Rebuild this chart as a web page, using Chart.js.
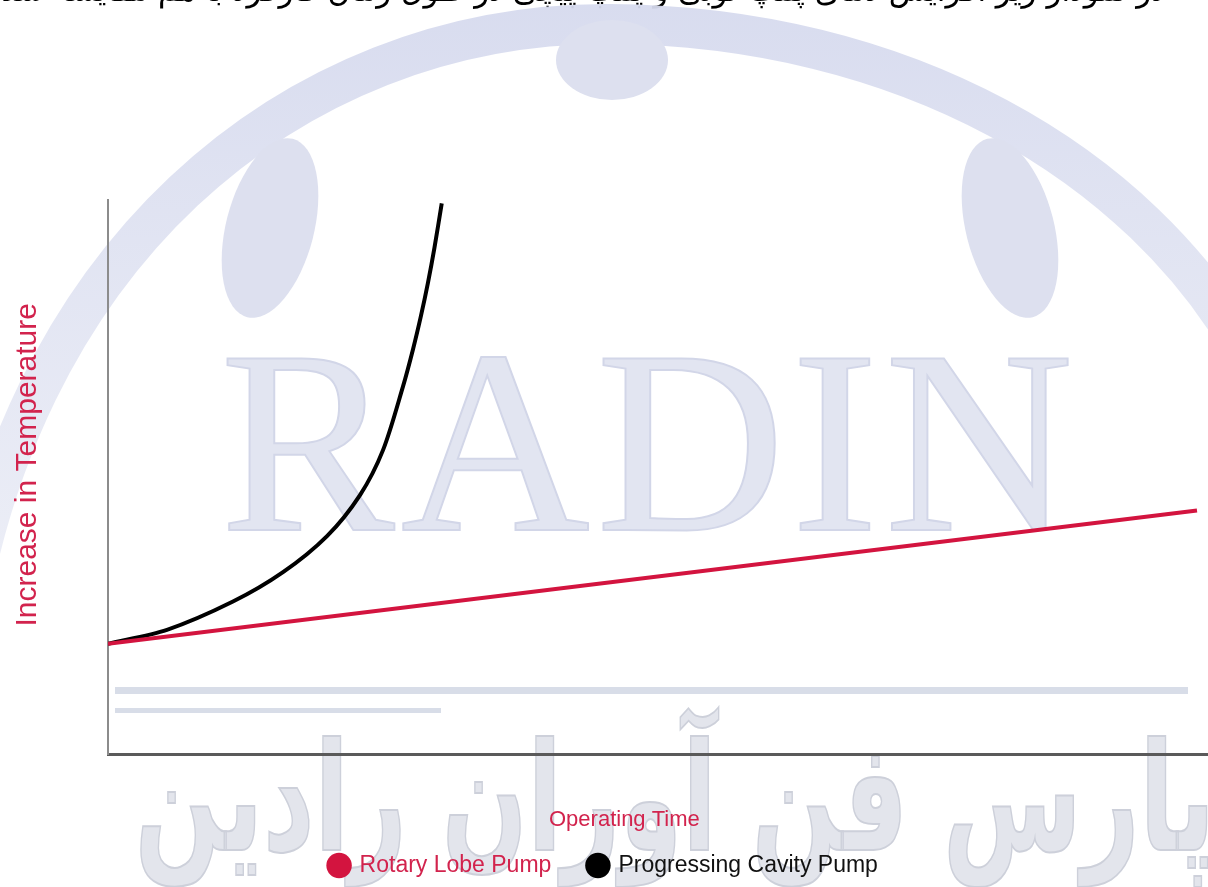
<!DOCTYPE html>
<html>
<head>
<meta charset="utf-8">
<title>Increase in Temperature vs Operating Time</title>
<script src="https://cdn.jsdelivr.net/npm/chart.js@4/dist/chart.umd.min.js"></script>
<style>
    html, body { margin: 0; padding: 0; background: #fff; }
    #wrap { width: 1208px; height: 887px; }
</style>
</head>
<body>
<div id="wrap"><canvas id="chart" width="1208" height="887"></canvas></div>
<script>
// operating time (x) / temperature rise (y)
const timeRotary = [0, 99];
const tempRotary = [20, 44];

const timeCavity = [0, 5.36, 11.36, 15.91, 19.91, 22.91, 25.0, 26.82, 27.73, 28.45, 29.09, 29.68, 30.34];
const tempCavity = [20, 22.5, 27.6, 32.9, 39.4, 46.8, 54.9, 66.4, 73.1, 79.1, 85.1, 91.4, 99.4];

const seriesLabels = ['Rotary Lobe Pump', 'Progressing Cavity Pump'];
const seriesColors = ['#d3143f', '#000000'];

const titleRed = '#d2234d';
const sans = "'Liberation Sans', Arial, sans-serif";

let toPoints = (xs, ys) => xs.map((x, i) => ({x: x, y: ys[i]}));

// logo watermark behind the plot (arc, lobes, RADIN, persian name)
let watermark = {
    id: 'watermark',
    beforeDraw: chart => {
        let ctx = chart.ctx;
        ctx.save();
        ctx.fillStyle = '#fff';
        ctx.fillRect(0, 0, chart.width, chart.height);

        // clipped caption line at the very top
        ctx.fillStyle = '#000';
        ctx.font = "31px 'DejaVu Sans'";
        ctx.direction = 'rtl';
        ctx.textAlign = 'right';
        ctx.textBaseline = 'alphabetic';
        ctx.fillText('در نمودار زیر افزایش دمای پمپ لوبی و پمپ پیچی در طول زمان کارکرد با هم مقایسه شده است.', 1165, 1);
        ctx.direction = 'ltr';

        // big arc
        let grad = ctx.createLinearGradient(0, 0, 0, 650);
        grad.addColorStop(0, 'rgba(214, 218, 238, 0.95)');
        grad.addColorStop(1, 'rgba(226, 229, 242, 0.6)');
        ctx.strokeStyle = grad;
        ctx.lineWidth = 40;
        ctx.lineCap = 'round';
        ctx.beginPath();
        ctx.moveTo(-40, 660);
        ctx.bezierCurveTo(10, 260, 290, 22, 610, 24);
        ctx.bezierCurveTo(900, 26, 1140, 160, 1250, 360);
        ctx.stroke();

        // lobes
        ctx.fillStyle = '#dde0ef';
        ctx.beginPath();
        ctx.ellipse(270, 228, 44, 92, 0.25, 0, Math.PI * 2);
        ctx.fill();
        ctx.beginPath();
        ctx.ellipse(1010, 228, 44, 92, -0.25, 0, Math.PI * 2);
        ctx.fill();
        ctx.beginPath();
        ctx.ellipse(612, 60, 56, 40, 0, 0, Math.PI * 2);
        ctx.fill();

        // RADIN
        ctx.font = "262px 'Liberation Serif', 'DejaVu Serif', serif";
        ctx.letterSpacing = '6px';
        ctx.textAlign = 'left';
        ctx.fillStyle = '#e2e5f1';
        ctx.strokeStyle = '#d2d6e8';
        ctx.lineWidth = 2;
        ctx.fillText('RADIN', 220, 530);
        ctx.strokeText('RADIN', 220, 530);
        ctx.letterSpacing = '0px';

        // pale bars under the curves
        ctx.fillStyle = '#d8dde8';
        ctx.fillRect(115, 687, 1073, 7);
        ctx.fillRect(115, 708, 326, 5);

        // persian company name
        ctx.translate(1215, 850);
        ctx.scale(0.67, 1);
        ctx.font = "bold 150px 'DejaVu Sans'";
        ctx.direction = 'rtl';
        ctx.textAlign = 'right';
        ctx.fillStyle = '#e3e5ec';
        ctx.strokeStyle = '#cdd0da';
        ctx.lineWidth = 2;
        ctx.fillText('پارس فن آوران رادین', 0, 0);
        ctx.strokeText('پارس فن آوران رادین', 0, 0);
        ctx.restore();
    }
};

new Chart(document.getElementById('chart'), {
    type: 'scatter',
    data: {
        datasets: [
            {
                label: seriesLabels[0],
                data: toPoints(timeRotary, tempRotary),
                showLine: true,
                borderColor: seriesColors[0],
                backgroundColor: seriesColors[0],
                borderWidth: 4,
                pointRadius: 0
            },
            {
                label: seriesLabels[1],
                data: toPoints(timeCavity, tempCavity),
                showLine: true,
                tension: 0.3,
                borderColor: seriesColors[1],
                backgroundColor: seriesColors[1],
                borderWidth: 4,
                pointRadius: 0
            }
        ]
    },
    options: {
        responsive: false,
        animation: false,
        layout: {padding: {top: 200, left: 0, right: 0, bottom: 0}},
        plugins: {
            tooltip: {enabled: false},
            legend: {
                position: 'bottom',
                labels: {
                    usePointStyle: true,
                    pointStyle: 'circle',
                    boxWidth: 18,
                    boxHeight: 18,
                    padding: 12,
                    font: {family: sans, size: 23},
                    generateLabels: chart => chart.data.datasets.map((ds, i) => ({
                        // extra spaces widen the gap between the two entries
                        text: i === 0 ? ds.label + '    ' : ds.label,
                        fillStyle: ds.borderColor,
                        strokeStyle: ds.borderColor,
                        lineWidth: 0,
                        pointStyle: 'circle',
                        fontColor: i === 0 ? titleRed : '#111',
                        datasetIndex: i
                    }))
                }
            }
        },
        scales: {
            x: {
                type: 'linear',
                min: 0,
                max: 100,
                grid: {display: false},
                ticks: {display: false},
                border: {color: '#5a5a5a', width: 3},
                title: {
                    display: true,
                    // trailing spaces nudge the label left of the plot centre
                    text: 'Operating Time           ',
                    color: titleRed,
                    font: {family: sans, size: 22},
                    padding: {top: 44, bottom: 9}
                }
            },
            y: {
                min: 0,
                max: 100,
                grid: {display: false},
                ticks: {display: false},
                border: {color: '#8c8c8c', width: 2},
                title: {
                    display: true,
                    text: '   Increase in Temperature',
                    color: titleRed,
                    font: {family: sans, size: 30},
                    padding: {top: 10, bottom: 54}
                }
            }
        }
    },
    plugins: [watermark]
});
</script>
</body>
</html>
